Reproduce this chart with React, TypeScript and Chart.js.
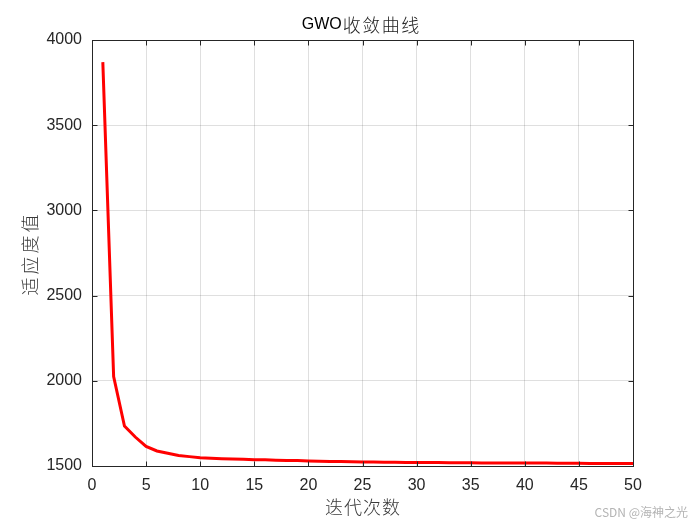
import React, { useEffect, useRef } from "react";
import { Chart, registerables } from "chart.js";

Chart.register(...registerables);

const iterations = [
  1, 2, 3, 4, 5, 6, 7, 8, 9, 10,
  11, 12, 13, 14, 15, 16, 17, 18, 19, 20,
  21, 22, 23, 24, 25, 26, 27, 28, 29, 30,
  31, 32, 33, 34, 35, 36, 37, 38, 39, 40,
  41, 42, 43, 44, 45, 46, 47, 48, 49, 50,
];
const fitness = [
  3870, 2025, 1735, 1670, 1615, 1588, 1575, 1562, 1555, 1549,
  1546, 1543, 1541, 1539, 1537, 1536, 1534, 1533, 1532, 1530,
  1528, 1527, 1526, 1525, 1524, 1523, 1522, 1522, 1521, 1521,
  1520, 1520, 1519, 1519, 1519, 1518, 1518, 1518, 1518, 1517,
  1517, 1517, 1516, 1516, 1516, 1515, 1515, 1515, 1515, 1514,
];
const titleLatin = "GWO";
const titleCjk = "收敛曲线";
const xTitle = "迭代次数";
const yTitle = "适应度值";
const watermark = "CSDN @海神之光";

const FONT = "'Liberation Sans', Arial, 'Noto Sans CJK SC', sans-serif";
const CJK = "'Noto Sans CJK SC', sans-serif";

function spacedText(ctx: any, text: string, cx: number, cy: number, spacing: number) {
  const widths = Array.from(text).map((ch) => ctx.measureText(ch).width);
  const total = widths.reduce((s, w) => s + w, 0) + spacing * (widths.length - 1);
  let x = cx - total / 2;
  const prevAlign = ctx.textAlign;
  ctx.textAlign = "left";
  Array.from(text).forEach((ch, i) => {
    ctx.fillText(ch, x, cy);
    x += widths[i] + spacing;
  });
  ctx.textAlign = prevAlign;
}

const matlabBox = {
  id: "matlabBox",
  afterDraw(chart: any) {
    const { ctx, chartArea: a, scales } = chart;
    const L = Math.round(a.left) + 0.5;
    const R = Math.round(a.right) + 0.5;
    const T = Math.round(a.top) + 0.5;
    const B = Math.round(a.bottom) + 0.5;
    ctx.save();
    ctx.strokeStyle = "#262626";
    ctx.lineWidth = 1;
    ctx.strokeRect(L, T, R - L, B - T);
    const tl = 5;
    ctx.beginPath();
    for (const t of scales.x.ticks) {
      const px = Math.round(scales.x.getPixelForValue(t.value)) + 0.5;
      ctx.moveTo(px, B);
      ctx.lineTo(px, B - tl);
      ctx.moveTo(px, T);
      ctx.lineTo(px, T + tl);
    }
    for (const t of scales.y.ticks) {
      const py = Math.round(scales.y.getPixelForValue(t.value)) + 0.5;
      ctx.moveTo(L, py);
      ctx.lineTo(L + tl, py);
      ctx.moveTo(R, py);
      ctx.lineTo(R - tl, py);
    }
    ctx.stroke();

    const cx = (a.left + a.right) / 2;
    const cy = (a.top + a.bottom) / 2;

    ctx.textBaseline = "middle";
    ctx.fillStyle = "#000";
    ctx.font = `16px ${FONT}`;
    const wLatin = ctx.measureText(titleLatin).width;
    ctx.font = `300 18px ${CJK}`;
    const cjkWidths = Array.from(titleCjk).map((ch) => ctx.measureText(ch).width);
    const sp = 1.5;
    const wCjk = cjkWidths.reduce((s, w) => s + w, 0) + sp * (cjkWidths.length - 1);
    let tx = cx - 2 - (wLatin + 1 + wCjk) / 2;
    ctx.textAlign = "left";
    ctx.font = `16px ${FONT}`;
    ctx.fillText(titleLatin, tx, 25);
    tx += wLatin + 1;
    ctx.font = `300 18px ${CJK}`;
    ctx.fillStyle = "#222";
    Array.from(titleCjk).forEach((ch, i) => {
      ctx.fillText(ch, tx, 25);
      tx += cjkWidths[i] + sp;
    });

    ctx.fillStyle = "#3a3a3a";
    ctx.font = `300 18px ${CJK}`;
    spacedText(ctx, xTitle, cx, 507, 1);
    ctx.save();
    ctx.translate(30, cy + 2);
    ctx.rotate(-Math.PI / 2);
    spacedText(ctx, yTitle, 0, 0, 3);
    ctx.restore();

    ctx.fillStyle = "#b4b4b4";
    ctx.font = `12px ${CJK}`;
    ctx.textAlign = "right";
    ctx.fillText(watermark, 688, 512);
    ctx.restore();
  },
};

export default function App() {
  const ref = useRef<HTMLCanvasElement>(null);
  useEffect(() => {
    const canvas = ref.current;
    if (!canvas) return;
    const chart = new Chart(canvas, {
      type: "line",
      data: {
        datasets: [
          {
            data: iterations.map((x, i) => ({ x, y: fitness[i] })),
            borderColor: "#ff0000",
            borderWidth: 3,
            pointRadius: 0,
            tension: 0,
            fill: false,
          },
        ],
      },
      options: {
        responsive: false,
        animation: false,
        layout: { padding: { left: 0, right: 67, top: 40, bottom: 0 } },
        plugins: {
          legend: { display: false },
          title: { display: false },
          tooltip: { enabled: false },
        },
        scales: {
          x: {
            type: "linear",
            min: 0,
            max: 50,
            afterFit: (s: any) => {
              s.height = 59;
            },
            ticks: {
              stepSize: 5,
              color: "#262626",
              font: { family: FONT, size: 16 },
              padding: 10,
              maxRotation: 0,
              callback: (v: any) => String(v),
            },
            grid: { color: "rgba(38,38,38,0.15)", drawTicks: false },
            border: { display: false },
          },
          y: {
            type: "linear",
            min: 1500,
            max: 4000,
            afterFit: (s: any) => {
              s.width = 92;
            },
            ticks: {
              stepSize: 500,
              color: "#262626",
              font: { family: FONT, size: 16 },
              padding: 10,
              callback: (v: any) => String(v),
            },
            grid: { color: "rgba(38,38,38,0.15)", drawTicks: false },
            border: { display: false },
          },
        },
      },
      plugins: [matlabBox],
    });
    return () => chart.destroy();
  }, []);
  return (
    <div style={{ position: "absolute", left: 0, top: 0, width: 700, height: 525, background: "#fff" }}>
      <canvas ref={ref} width={700} height={525} />
    </div>
  );
}
